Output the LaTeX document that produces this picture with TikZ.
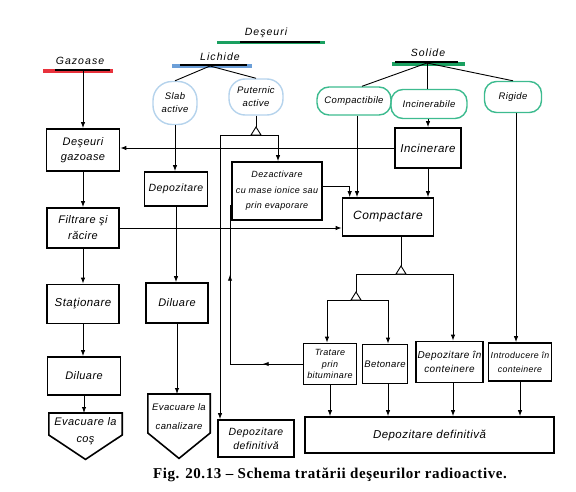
\documentclass[tikz,border=0pt]{standalone}
\usepackage{fontspec}
\setmainfont{Liberation Serif}
\setsansfont{Liberation Sans}
\newfontfamily\boxfont[LetterSpace=4]{Liberation Sans}
\newfontfamily\hdrfont[LetterSpace=10]{Liberation Sans}
\newfontfamily\capfont[LetterSpace=4]{Liberation Serif}
\usetikzlibrary{arrows.meta,positioning,decorations.markings,calc}
\definecolor{gasred}{HTML}{E8323C}
\definecolor{liqblue}{HTML}{6C9FD8}
\definecolor{solgreen}{HTML}{1AA060}
\definecolor{cloudblue}{HTML}{B5D3EC}
\definecolor{cloudgreen}{HTML}{3DBB8F}
\newcommand{\bxf}[2]{\boxfont\itshape\fontsize{#1}{#2}\selectfont}

\begin{document}
\begin{tikzpicture}[x=1pt,y=-1pt,>=Latex,
  box/.style={draw=black,line width=1.6pt,align=center,inner sep=1pt,font=\bxf{10.5}{14}},
  blobl/.style={draw=cloudblue,line width=1.4pt,rounded corners=16pt,align=center,inner sep=0pt,font=\bxf{9.5}{13}},
  blobs/.style={draw=cloudgreen,line width=1.4pt,rounded corners=12pt,align=center,inner sep=0pt,font=\bxf{9.5}{12}},
  hdr/.style={font=\hdrfont\itshape\fontsize{10.5}{12}\selectfont,inner sep=1pt},
  ln/.style={line width=0.9pt},
  arr/.style={-{Latex[length=6pt,width=4.4pt]},line width=0.9pt},
  twoarr/.style={line width=0.9pt,postaction={decorate},decoration={markings,
    mark=at position 40pt with {\arrow{Latex[length=6pt,width=4.4pt]}},
    mark=at position 162pt with {\arrow{Latex[length=6pt,width=4.4pt]}}}}]
\useasboundingbox (0,0) rectangle (576,492);

% headings
\node[hdr] (desh) at (266,33) {Deşeuri};
\draw[solgreen,line width=3pt] (217,43) -- (325,43);
\draw[line width=1.4pt] (240,42) -- (320,42);
\node[hdr] (gazh) at (80,61) {Gazoase};
\draw[gasred,line width=3.5pt] (43,71) -- (113,71);
\draw[line width=1.4pt] (55,70) -- (110,70);
\node[hdr] (lichh) at (220,57) {Lichide};
\draw[liqblue,line width=3.5pt] (172,66) -- (252,66);
\draw[line width=1.4pt] (180,65) -- (247,65);
\node[hdr] (solh) at (428,53) {Solide};
\draw[solgreen,line width=3.5pt] (392,64) -- (465,64);
\draw[line width=1.4pt] (395,62) -- (458,62);
\coordinate (gazU) at (83,71);
\coordinate (lichU) at (210,66);
\coordinate (solU) at (427,63);

% clouds
\node[blobl,minimum width=44pt,minimum height=43pt,rounded corners=19pt] (slab) at (175,103) {Slab\\active};
\node[blobl,minimum width=54pt,minimum height=36pt] (put) at (256,97) {Puternic\\active};
\node[blobs,minimum width=74pt,minimum height=28pt] (compb) at (354,101) {Compactibile};
\node[blobs,minimum width=76pt,minimum height=29pt] (inc) at (429,104) {Incinerabile};
\node[blobs,minimum width=57pt,minimum height=31pt] (rig) at (513,97) {Rigide};

% gaseous waste
\node[box,minimum width=73pt,minimum height=42pt,font=\bxf{11}{15}] (dgaz) at (83,150) {Deşeuri\\gazoase};
\node[box,minimum width=72pt,minimum height=40pt,font=\bxf{11}{16}] (filt) at (83,228) {Filtrare şi\\răcire};
\node[box,minimum width=72pt,minimum height=39pt,font=\bxf{11.5}{14}] (stat) at (83,304) {Staţionare};
\node[box,minimum width=73pt,minimum height=38pt,font=\bxf{11}{14}] (dil1) at (84,376) {Diluare};
\node[minimum width=73pt,minimum height=46pt,anchor=north,inner sep=0pt] (evcos) at (85.5,413) {};
\draw[line width=1.6pt] (evcos.north west) -- (evcos.north east) -- ++(0,22) -- (evcos.south) -- ($(evcos.north west)+(0,22)$) -- cycle;
\node[font=\bxf{11}{17},align=center] (evcosT) at ($(evcos.center)+(0,-5)$) {Evacuare la\\coş};

% liquid waste
\node[box,minimum width=63pt,minimum height=34pt] (dep) at (176,189) {Depozitare};
\node[box,minimum width=62pt,minimum height=40pt,font=\bxf{11}{14}] (dil2) at (177,303) {Diluare};
\node[minimum width=62pt,minimum height=64pt,anchor=north,inner sep=0pt] (evcan) at (179,394) {};
\draw[line width=1.6pt] (evcan.north west) -- (evcan.north east) -- ++(0,39) -- (evcan.south) -- ($(evcan.north west)+(0,39)$) -- cycle;
\node[font=\bxf{9.5}{19},align=center] (evcanT) at ($(evcan.center)+(0,-10)$) {Evacuare la\\canalizare};
\node[box,minimum width=90pt,minimum height=58pt,font=\bxf{9}{15.5}] (dez) at (277,191) {Dezactivare\\cu mase ionice sau\\prin evaporare};
\node[box,minimum width=76pt,minimum height=37pt] (depdef1) at (256,438.5) {Depozitare\\definitivă};

% solid waste
\node[box,minimum width=66pt,minimum height=40pt,font=\bxf{11.5}{14}] (incn) at (428,148) {Incinerare};
\node[box,minimum width=91pt,minimum height=38pt,font=\bxf{12}{14}] (compc) at (388,217) {Compactare};
\node[box,minimum width=53pt,minimum height=41pt,font=\bxf{9}{11.5}] (trat) at (330,364) {Tratare\\prin\\bituminare};
\node[box,minimum width=45pt,minimum height=39pt,font=\bxf{9.5}{12}] (bet) at (385,364) {Betonare};
\node[box,minimum width=67pt,minimum height=41pt,font=\bxf{10}{14}] (depc) at (449.5,362) {Depozitare în\\conteinere};
\node[box,minimum width=63pt,minimum height=38pt,font=\bxf{8.8}{14}] (intro) at (520,362) {Introducere în\\conteinere};
\node[box,minimum width=249pt,minimum height=36pt,font=\bxf{11.5}{13}] (depdef2) at (429.5,435) {Depozitare definitivă};

\node[font=\capfont\bfseries\fontsize{15}{17}\selectfont] (cap) at (330,475) {Fig. 20.13 – Schema tratării deşeurilor radioactive.};

% gaseous line
\draw[arr] (gazU) -- (gazU |- dgaz.north);
\draw[arr] (dgaz) -- (filt);
\draw[arr] (filt) -- (stat);
\draw[arr] (stat.south) -- (stat.south |- dil1.north);
\draw[arr] (dil1.south) -- (dil1.south |- evcos.north);

% liquid line
\draw[ln] (lichU) -- (slab.north);
\draw[ln] (lichU) -- (put.north);
\draw[arr] (slab) -- (slab |- dep.north);
\draw[arr] (dep.south) -- (dep.south |- dil2.north);
\draw[arr] (dil2.south) -- (dil2.south |- evcan.north);
\coordinate (fkP) at (256,127);
\coordinate (fpL) at (220,135);
\coordinate (fpR) at (278,135);
\draw[ln] (put) -- (fkP);
\draw[ln] (fpL) -- (fpR);
\draw[ln,fill=white] (fkP) -- ++(-5,8) -- ++(10,0) -- cycle;
\draw[arr] (fpL) -- (fpL |- depdef1.north);
\draw[arr] (fpR) -- (fpR |- dez.north);

% solid line
\draw[ln] (solU) -- ([xshift=8pt]compb.north);
\draw[ln] (solU) -- (solU |- inc.north);
\draw[ln] (solU) -- (rig.north);
\draw[arr] (inc.south -| incn) -- (incn.north);
\draw[arr] (incn.west) -- (incn.west -| dgaz.east);
\draw[arr] ([xshift=3pt]compb.south) -- ([xshift=3pt]compb.south |- compc.north);
\draw[arr] (incn) -- (incn |- compc.north);
\draw[arr] ([yshift=5pt]dez.east) -| ($(compc.north west)+(8,0)$);
\draw[arr] (filt.east) -- (filt.east -| compc.west);
\draw[arr] ([xshift=3pt]rig.south) -- ([xshift=3pt]rig.south |- intro.north);

% sorting after compaction
\coordinate (fkC) at (401,266);
\coordinate (fcL) at (356,274);
\coordinate (fcR) at (453,274);
\coordinate (fkB) at (356,292);
\coordinate (fbL) at (327,300);
\coordinate (fbR) at (388,300);
\draw[ln] (compc.south -| fkC) -- (fkC);
\draw[ln] (fcL) -- (fcR);
\draw[ln] (fcL) -- (fkB);
\draw[ln] (fbL) -- (fbR);
\draw[ln,fill=white] (fkC) -- ++(-5,8) -- ++(10,0) -- cycle;
\draw[ln,fill=white] (fkB) -- ++(-5,8) -- ++(10,0) -- cycle;
\draw[arr] (fcR) -- (fcR |- depc.north);
\draw[arr] (fbL) -- (fbL |- trat.north);
\draw[arr] (fbR) -- (fbR |- bet.north);

% return of bitumen line to deactivation
\coordinate (tk) at (230,205);
\draw[twoarr] (trat.west) -- (trat.west -| tk) -- (tk) -- (tk -| dez.west);

% final storage
\draw[arr] (trat) -- (trat |- depdef2.north);
\draw[arr] (bet.south -| fbR) -- (fbR |- depdef2.north);
\draw[arr] (depc.south -| fcR) -- (fcR |- depdef2.north);
\draw[arr] (intro) -- (intro |- depdef2.north);
\end{tikzpicture}
\end{document}
